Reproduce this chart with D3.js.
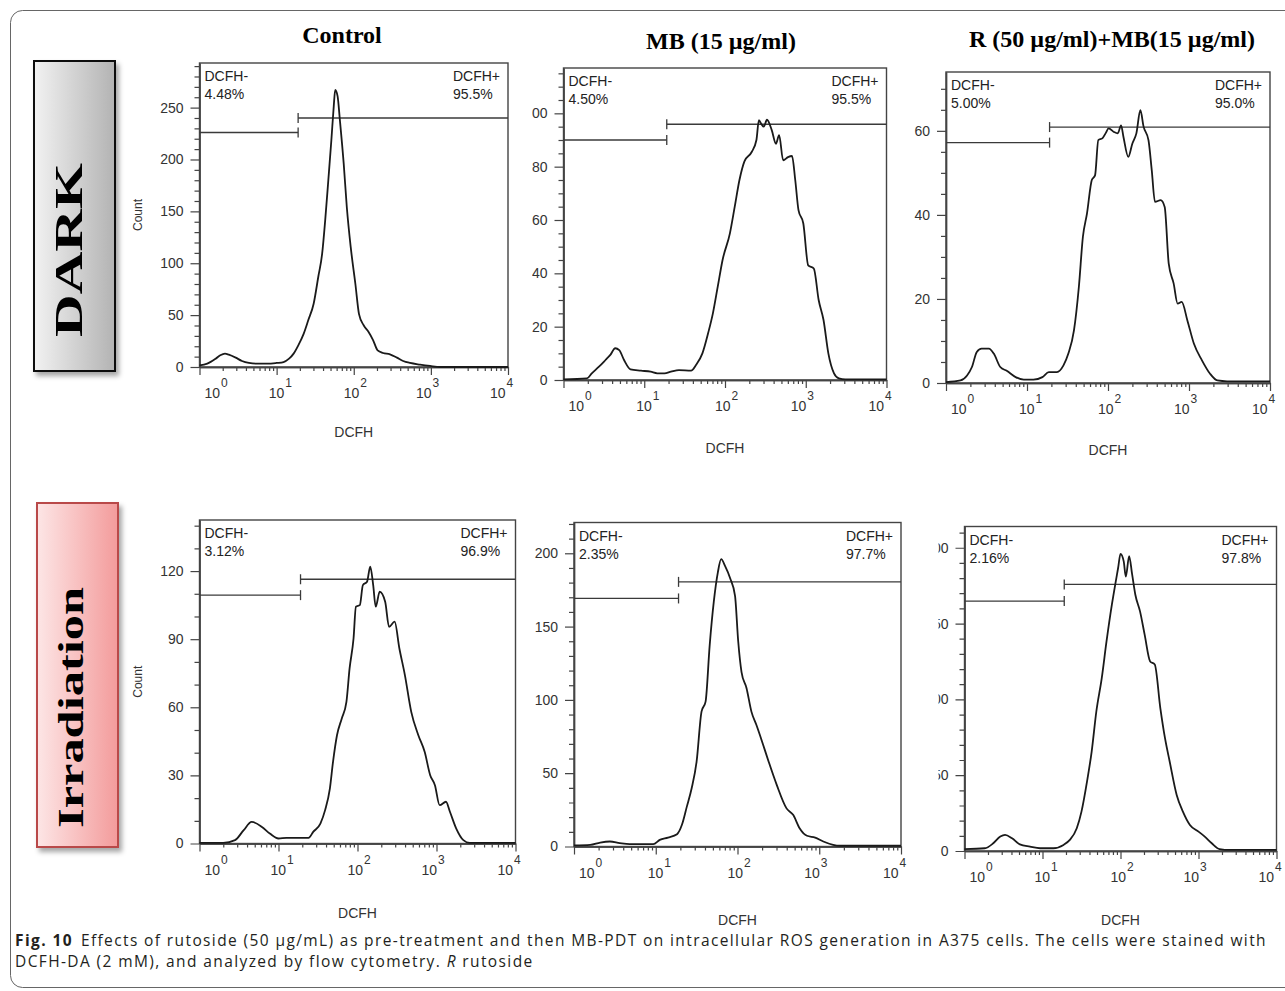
<!DOCTYPE html>
<html>
<head>
<meta charset="utf-8">
<script src="https://cdn.jsdelivr.net/npm/d3@7"></script>
<style>
  body { margin: 0; background: #fff; }
  svg text { font-family: "Liberation Sans", Arial, sans-serif; }
  .axis .domain { stroke: #444; stroke-width: 1.4; }
  .axis line { stroke: #444; stroke-width: 1.2; }
  .axis text { font-size: 14px; fill: #333; }
</style>
</head>
<body>
<svg id="fig" width="1285" height="991"></svg>
<script>
// ---- data: [DCFH intensity, count] ----
var darkControl = [[1,1.6],[1.26,3.2],[1.62,8],[1.86,11.3],[2.14,12.9],[2.40,11.9],[2.95,9],[3.55,5.8],[4.37,3.9],[5.62,3.2],[7.59,3.2],[10,3.9],[12.3,4.8],[14.5,8],[16.6,12.9],[19.1,20.9],[22.4,32],[25.7,45],[30.2,61],[34.7,87],[38.9,109],[42.7,142],[46.8,180],[51.3,219],[55.0,251],[57.5,267],[61.7,261],[66.1,238],[74.1,196],[81.3,154],[91.2,116],[105,80],[117,51],[135,40],[155,34],[178,26],[204,16],[240,13.5],[295,12.2],[363,9],[437,5.8],[537,3.9],[724,2.3],[977,1],[1318,0],[10000,0]];
var darkMB = [[1,0.2],[1.95,0.6],[2.24,2.5],[2.75,5],[3.31,7.5],[3.80,9.4],[4.37,11.9],[4.90,11.2],[5.62,7.5],[6.76,4],[9.12,3.5],[12.0,3.1],[14.5,2.5],[17.8,2.5],[21.4,3.1],[26.9,3.7],[38.0,3.5],[43.7,5.6],[52.5,10],[61.7,17.5],[70.8,25],[81.3,35],[93.3,45],[115,55],[132,65],[151,75],[174,82],[214,85.5],[245,90],[263,97.4],[282,96],[302,95],[331,97.6],[380,93.6],[427,88.6],[468,91.8],[525,82.4],[603,83.6],[676,84],[741,75],[813,63.7],[933,58.7],[1072,43],[1259,41.8],[1445,30],[1660,22.5],[1905,10],[2239,2.5],[2570,0.6],[3090,0.2],[10000,0.2]];
var darkRMB = [[1,0.2],[1.51,0.6],[1.82,1.8],[2.09,3.8],[2.40,7.4],[2.75,8.2],[3.39,8.2],[3.89,7],[4.68,3.8],[5.62,2.9],[7.24,1.4],[9.12,0.8],[12.0,0.8],[15.5,1.4],[18.6,2.6],[23.4,2.6],[28.2,4.2],[32.4,7],[38.0,12.5],[43.7,22.9],[49.0,34.8],[55.0,40.3],[63.1,48.3],[69.2,49.4],[75.9,57.8],[85.1,58.2],[93.3,59.4],[102,60.6],[117,59.8],[132,59.4],[145,61.3],[155,58.6],[178,53.8],[200,57],[224,59.4],[251,64.9],[275,61],[316,57.8],[347,50.6],[380,43.1],[447,43.5],[501,41.9],[562,28.4],[646,23.7],[724,18.9],[813,19.3],[955,14.9],[1148,9.4],[1445,5.4],[1820,2.2],[2239,0.6],[2951,0.4],[10000,0.4]];
var irrControl = [[1,0.3],[2.0,0.3],[2.82,1.5],[3.63,5.9],[4.57,9.5],[6.17,7.3],[7.76,4.4],[10,2.2],[12.6,2.5],[18.6,2.5],[24.0,2.5],[27.5,5.1],[33.9,8.8],[38.9,14.7],[44.7,24.2],[49.0,36],[55.0,47.7],[63.1,55],[72.4,62.4],[79.4,77.1],[89.1,90.3],[95.5,104.3],[107,105],[117,113.8],[132,115.3],[145,121.9],[158,113.8],[170,104.3],[191,110.9],[224,106.5],[251,95.4],[295,97.7],[339,85.9],[398,74.2],[479,58],[589,47.7],[708,40.4],[832,30.1],[955,25.7],[1096,16.9],[1318,18.4],[1479,14],[1778,6.6],[2188,1.5],[2630,0.3],[10000,0.3]];
var irrMB = [[1,0.7],[1.58,1.1],[2.09,2.7],[2.75,3.4],[3.63,2.3],[4.79,1.6],[9.33,1.6],[11.2,4.5],[14.1,6.1],[18.2,8.4],[20.9,14.8],[24.0,27.2],[27.5,39.7],[31.6,57.9],[36.3,92],[40.7,98.8],[45.7,137.4],[51.3,167],[57.5,187],[63.1,196],[70.8,191],[81.3,183],[93.3,171],[102,140],[112,119],[129,108],[148,92],[170,83],[200,71.5],[240,58],[302,42],[398,26],[479,21.6],[575,12.5],[708,7.3],[891,6.1],[1122,3.4],[1479,1.1],[1778,0.5],[10000,0.5]];
var irrRMB = [[1,1.3],[1.82,1.8],[2.34,5.1],[2.88,9.5],[3.31,10.6],[4.07,8.4],[5.13,4.4],[6.92,2.9],[9.33,1.8],[13.8,1.8],[18.6,4],[22.4,7.3],[27.5,15],[31.6,26],[37.2,45.8],[42.7,65.6],[49.0,92],[57.5,114],[66.1,138],[77.6,162.6],[87.1,178],[93.3,186.8],[100,196],[110,191],[117,181],[129,194.5],[141,182.4],[155,169],[178,158],[204,142.7],[240,125],[275,123],[324,94.3],[372,74.4],[427,59],[525,37],[631,26],[776,17.2],[1000,12.8],[1202,9.5],[1479,5.1],[1862,1.3],[2512,0.7],[10000,0.7]];

var columnTitles = ["Control", "MB (15 \u00b5g/ml)", "R (50 \u00b5g/ml)+MB(15 \u00b5g/ml)"];
var rowLabels = ["DARK", "Irradiation"];
var negPercents = ["4.48%", "4.50%", "5.00%", "3.12%", "2.35%", "2.16%"];
var posPercents = ["95.5%", "95.5%", "95.0%", "96.9%", "97.7%", "97.8%"];
var gateMarker = 19;                                     // DCFH value splitting the two gates
var gateNegLevel = [226, 90, 57.2, 109.4, 169.2, 164.8]; // gate bar heights, in counts
var gatePosLevel = [240, 95.9, 60.9, 116.4, 180.5, 175.8];
var countMax = [293, 117, 74, 142.5, 221, 214];
var countMajor = [50, 20, 20, 30, 50, 50];
var countMinor = [10, 5, 5, 10, 10, 10];
var xDecades = [1, 10, 100, 1000, 10000];
var series = [darkControl, darkMB, darkRMB, irrControl, irrMB, irrRMB];
var captionLine1 = "Effects of rutoside (50 \u00b5g/mL) as pre-treatment and then MB-PDT on intracellular ROS generation in A375 cells. The cells were stained with";
var captionLine2 = "DCFH-DA (2 mM), and analyzed by flow cytometry. ";

// ---- layout ----
var panelBoxes = [
  {x0: 199.5, x1: 508,    y0: 63,    y1: 367,   clipL: 120, clipR: 520,  xlabDy: 70},
  {x0: 563.5, x1: 886.5,  y0: 68,    y1: 380,   clipL: 532, clipR: 896,  xlabDy: 73},
  {x0: 946,   x1: 1270,   y0: 72,    y1: 383,   clipL: 900, clipR: 1285, xlabDy: 72},
  {x0: 199.5, x1: 515.5,  y0: 520,   y1: 843.5, clipL: 120, clipR: 525,  xlabDy: 74},
  {x0: 574,   x1: 901,    y0: 522.5, y1: 846.5, clipL: 525, clipR: 910,  xlabDy: 78},
  {x0: 964.5, x1: 1276.5, y0: 526.5, y1: 851,   clipL: 938.5, clipR: 1285, xlabDy: 74}
];
var titlePos = [[342, 43], [721, 49], [1112, 47]];
var xLabelShift = [5, -8, -10, -15, -18]; // CellQuest style label nudges

var svg = d3.select("#fig");
var defs = svg.append("defs");

// outer frame of the figure
svg.append("rect")
    .attr("x", 10.5).attr("y", 10.5)
    .attr("width", 1300).attr("height", 977)
    .attr("rx", 12)
    .attr("fill", "none").attr("stroke", "#666").attr("stroke-width", 1);

// row label boxes
var shadow = defs.append("filter").attr("id", "shadow")
    .attr("x", "-20%").attr("y", "-10%").attr("width", "150%").attr("height", "130%");
shadow.append("feDropShadow").attr("dx", 3).attr("dy", 4)
    .attr("stdDeviation", 2.5).attr("flood-color", "#000").attr("flood-opacity", 0.35);

var rowBoxes = [
  {x: 34, y: 61, w: 81, h: 310, from: "#f2f2f2", to: "#b3b3b3", stroke: "#111", tx: 68.5, ty: 250, fs: 40, len: 174},
  {x: 37, y: 503, w: 81, h: 344, from: "#fde6e6", to: "#f39b9b", stroke: "#b94a48", tx: 71.5, ty: 707.5, fs: 35, len: 241}
];
rowBoxes.forEach(function(b, i) {
  var grad = defs.append("linearGradient").attr("id", "rowgrad" + i)
      .attr("x1", "0%").attr("x2", "100%").attr("y1", "0%").attr("y2", "0%");
  grad.append("stop").attr("offset", "0%").attr("stop-color", b.from);
  grad.append("stop").attr("offset", "100%").attr("stop-color", b.to);
  svg.append("rect")
      .attr("x", b.x).attr("y", b.y).attr("width", b.w).attr("height", b.h)
      .attr("fill", "url(#rowgrad" + i + ")")
      .attr("stroke", b.stroke).attr("stroke-width", 2)
      .attr("filter", "url(#shadow)");
  svg.append("text")
      .attr("transform", "translate(" + b.tx + "," + b.ty + ") rotate(-90)")
      .attr("text-anchor", "middle")
      .attr("dy", "0.34em")
      .attr("textLength", b.len).attr("lengthAdjust", "spacingAndGlyphs")
      .style("font-family", "'Liberation Serif', 'Times New Roman', serif")
      .style("font-weight", "bold")
      .style("font-size", b.fs + "px")
      .attr("fill", "#000")
      .text(rowLabels[i]);
});

// column titles
columnTitles.forEach(function(t, i) {
  svg.append("text")
      .attr("x", titlePos[i][0]).attr("y", titlePos[i][1])
      .attr("text-anchor", "middle")
      .style("font-family", "'Liberation Serif', 'Times New Roman', serif")
      .style("font-weight", "bold")
      .style("font-size", "24px")
      .attr("fill", "#000")
      .text(t);
});

// one histogram panel
function drawPanel(data, i) {
  var f = panelBoxes[i];
  defs.append("clipPath").attr("id", "clip" + i)
    .append("rect")
      .attr("x", f.clipL).attr("y", f.y0 - 30)
      .attr("width", f.clipR - f.clipL).attr("height", f.y1 - f.y0 + 130);

  var g = svg.append("g").attr("clip-path", "url(#clip" + i + ")");

  var x = d3.scaleLog().domain([1, 10000]).range([f.x0, f.x1]);
  var y = d3.scaleLinear().domain([0, countMax[i]]).range([f.y1, f.y0]);

  // frame
  g.append("rect")
      .attr("x", f.x0).attr("y", f.y0)
      .attr("width", f.x1 - f.x0).attr("height", f.y1 - f.y0)
      .attr("fill", "none").attr("stroke", "#444").attr("stroke-width", 1.4);

  // y axis: minor then major ticks
  var majors = d3.range(0, countMax[i] + 1e-6, countMajor[i]);
  var minors = d3.range(0, countMax[i], countMinor[i]).filter(function(v) { return v % countMajor[i] !== 0; });
  g.append("g").attr("class", "axis")
      .attr("transform", "translate(" + f.x0 + ",0)")
      .call(d3.axisLeft(y).tickValues(minors).tickSize(5).tickSizeOuter(0).tickFormat(""));
  g.append("g").attr("class", "axis")
      .attr("transform", "translate(" + f.x0 + ",0)")
      .call(d3.axisLeft(y).tickValues(majors).tickSize(9).tickPadding(7).tickSizeOuter(0).tickFormat(d3.format("d")));

  // x axis: log minor ticks, decade ticks, custom 10^n labels
  var xMinor = x.ticks().filter(function(v) { return xDecades.indexOf(v) < 0; });
  g.append("g").attr("class", "axis")
      .attr("transform", "translate(0," + f.y1 + ")")
      .call(d3.axisBottom(x).tickValues(xMinor).tickSize(4).tickSizeOuter(0).tickFormat(""));
  g.append("g").attr("class", "axis")
      .attr("transform", "translate(0," + f.y1 + ")")
      .call(d3.axisBottom(x).tickValues(xDecades).tickSize(8).tickSizeOuter(0).tickFormat(""));

  xDecades.forEach(function(v, k) {
    var t = g.append("text")
        .attr("x", x(v) + xLabelShift[k]).attr("y", f.y1 + 31)
        .style("font-size", "14px").attr("fill", "#333");
    t.append("tspan").text("10");
    t.append("tspan").attr("dy", -11).attr("dx", 1).style("font-size", "12px").text(String(k));
  });

  g.append("text")
      .attr("x", (f.x0 + f.x1) / 2).attr("y", f.y1 + f.xlabDy)
      .attr("text-anchor", "middle")
      .style("font-size", "14px").attr("fill", "#333")
      .text("DCFH");

  if (i % 3 === 0) {
    g.append("text")
        .attr("transform", "translate(" + (f.x0 - 58) + "," + ((f.y0 + f.y1) / 2) + ") rotate(-90)")
        .attr("text-anchor", "middle")
        .style("font-size", "12px").attr("fill", "#333")
        .text("Count");
  }

  // gates
  var gx = x(gateMarker);
  var gates = [
    {x1: x(1), x2: gx, yv: gateNegLevel[i]},
    {x1: gx, x2: x(10000), yv: gatePosLevel[i]}
  ];
  gates.forEach(function(gt) {
    var yy = y(gt.yv);
    g.append("line").attr("x1", gt.x1).attr("x2", gt.x2).attr("y1", yy).attr("y2", yy)
        .attr("stroke", "#3a3a3a").attr("stroke-width", 1.3);
    g.append("line").attr("x1", gx).attr("x2", gx).attr("y1", yy - 5).attr("y2", yy + 5)
        .attr("stroke", "#3a3a3a").attr("stroke-width", 1.3);
  });

  // gate labels
  g.append("text").attr("x", f.x0 + 5).attr("y", f.y0 + 18)
      .style("font-size", "14px").attr("fill", "#222").text("DCFH-");
  g.append("text").attr("x", f.x0 + 5).attr("y", f.y0 + 36)
      .style("font-size", "14px").attr("fill", "#222").text(negPercents[i]);
  var pos = g.append("text").attr("x", f.x1 - 8).attr("y", f.y0 + 18)
      .attr("text-anchor", "end")
      .style("font-size", "14px").attr("fill", "#222").text("DCFH+");
  var posStart = f.x1 - 8 - pos.node().getComputedTextLength();
  g.append("text").attr("x", posStart).attr("y", f.y0 + 36)
      .style("font-size", "14px").attr("fill", "#222").text(posPercents[i]);

  // histogram
  var line = d3.line()
      .x(function(d) { return x(d[0]); })
      .y(function(d) { return y(d[1]); })
      .curve(d3.curveMonotoneX);
  g.append("path")
      .datum(data)
      .attr("d", line)
      .attr("fill", "none")
      .attr("stroke", "#1a1a1a")
      .attr("stroke-width", 1.8)
      .attr("stroke-linejoin", "round");
}

series.forEach(drawPanel);

// caption
var capFont = "'Open Sans', 'Noto Sans', sans-serif";
var cap1 = svg.append("text").attr("x", 15).attr("y", 946)
    .style("font-family", capFont).style("font-size", "15.5px").attr("fill", "#231f20");
cap1.append("tspan").style("font-weight", "bold").text("Fig. 10");
cap1.append("tspan").attr("dx", 8).text(captionLine1);
var cap2 = svg.append("text").attr("x", 15).attr("y", 967)
    .style("font-family", capFont).style("font-size", "15.5px").attr("fill", "#231f20");
cap2.append("tspan").text(captionLine2);
cap2.append("tspan").style("font-style", "italic").text("R");
cap2.append("tspan").text(" rutoside");

// small letter spacing so line 1 runs to x=1267 as in the reference
var w1 = cap1.node().getBBox().width;
var nChars = ("Fig. 10" + captionLine1).length;
var spacing = Math.max(0, (1252 - w1) / nChars);
cap1.style("letter-spacing", spacing + "px");
cap2.style("letter-spacing", spacing + "px");
</script>
</body>
</html>
